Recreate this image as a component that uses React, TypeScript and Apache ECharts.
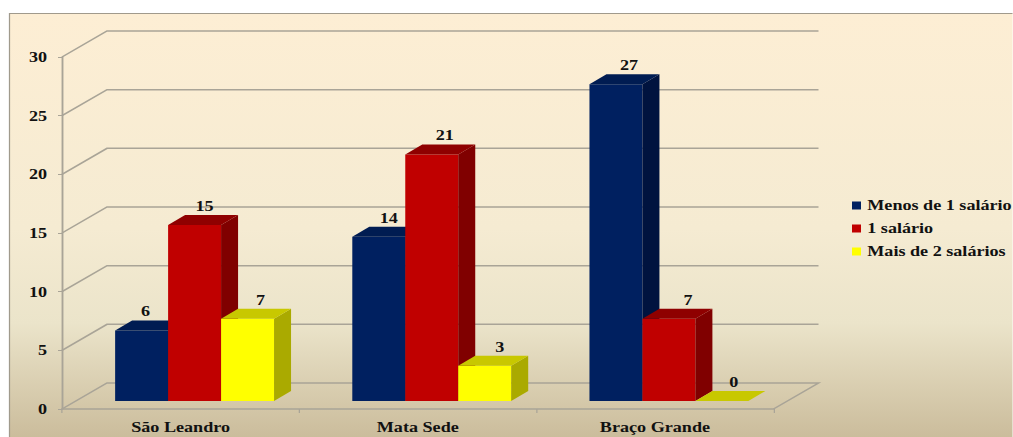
import React, { useEffect, useRef } from "react";
import * as echarts from "echarts";

const categories = ["São Leandro", "Mata Sede", "Braço Grande"];
const menosDe1 = [6, 14, 27];
const um = [15, 21, 7];
const maisDe2 = [7, 3, 0];
const wallTicks = [0, 5, 10, 15, 20, 25, 30];

// The reference's picture is stretched sideways; the chart is drawn narrower and stretched the same way.
const SX = 1.25;
const FONT = "'Liberation Serif'";
const FONT_SIZE = 14.5;
const LINE = "#a9a497";
const WALL_DX = 45 / SX;
const WALL_DY = 26;
const BAR_OFF_X = 14 / SX;
const BAR_OFF_Y = 8;
const DEPTH_X = 17 / SX;
const DEPTH_Y = 10;
const BAR_RATIO = 53 / 237.3;
const labelShifts = [
  [4, 10, 13],
  [10, 13, 19],
  [13, 15, 12],
];

function barSeries(name: string, values: number[], idx: number, front: string, top: string, side: string) {
  return {
    type: "custom",
    name,
    z: 5,
    itemStyle: { color: front },
    data: values.map((v, i) => [i, v]),
    encode: { x: 0, y: 1 },
    renderItem: (_p: any, api: any) => {
      const cat = api.value(0);
      const val = api.value(1);
      const c = api.coord([cat, val]);
      const base = api.coord([cat, 0]);
      const w = api.size([1, 0])[0] * BAR_RATIO;
      const x0 = c[0] + (idx - 1.5) * w + BAR_OFF_X;
      const x1 = x0 + w;
      const yT = c[1] - BAR_OFF_Y;
      const yB = base[1] - BAR_OFF_Y;
      const children: any[] = [];
      if (val > 0) {
        children.push({ type: "rect", shape: { x: x0, y: yT, width: w, height: yB - yT }, style: { fill: front } });
        children.push({
          type: "polygon",
          shape: { points: [[x1, yT], [x1 + DEPTH_X, yT - DEPTH_Y], [x1 + DEPTH_X, yB - DEPTH_Y], [x1, yB]] },
          style: { fill: side },
        });
      }
      children.push({
        type: "polygon",
        shape: { points: [[x0, yT], [x1, yT], [x1 + DEPTH_X, yT - DEPTH_Y], [x0 + DEPTH_X, yT - DEPTH_Y]] },
        style: { fill: top },
      });
      children.push({
        type: "text",
        style: {
          text: String(val),
          x: x0 + w / 2 + labelShifts[idx][cat] / SX,
          y: yT - DEPTH_Y - 9,
          align: "center",
          verticalAlign: "middle",
          font: `bold ${FONT_SIZE}px ${FONT}`,
          fill: "#111",
        },
      });
      return { type: "group", children };
    },
  };
}

export default function App() {
  const ref = useRef<HTMLDivElement>(null);
  useEffect(() => {
    document.body.style.margin = "0";
    const chart = echarts.init(ref.current!, undefined, { renderer: "svg" });
    chart.setOption({
      animation: false,
      backgroundColor: "#ffffff",
      graphic: [
        {
          type: "rect",
          z: -10,
          shape: { x: 9.5 / SX, y: 13.5, width: 1010 / SX, height: 430 },
          style: {
            stroke: "#a09a8c",
            lineWidth: 1,
            fill: {
              type: "linear",
              x: 0,
              y: 0,
              x2: 0,
              y2: 1,
              colorStops: [
                { offset: 0, color: "#fdeed4" },
                { offset: 0.5, color: "#f5ebd2" },
                { offset: 0.72, color: "#ebe4ca" },
                { offset: 1, color: "#c9ba99" },
              ],
            },
          },
        },
      ],
      grid: { left: 62 / SX, right: 239 / SX, top: 57, bottom: 28 },
      legend: {
        orient: "vertical",
        left: 852 / SX,
        top: 198,
        padding: 0,
        itemWidth: 9 / SX,
        itemHeight: 8,
        itemGap: 8,
        icon: "rect",
        textStyle: { fontFamily: FONT, fontWeight: "bold", fontSize: FONT_SIZE, lineHeight: 14, color: "#111" },
        data: ["Menos de 1 salário", "1 salário", "Mais de 2 salários"],
      },
      xAxis: {
        type: "category",
        data: categories,
        axisLine: { lineStyle: { color: LINE, width: 1.5 } },
        axisTick: { show: true, length: 4, alignWithLabel: false, lineStyle: { color: LINE } },
        axisLabel: { fontFamily: FONT, fontWeight: "bold", fontSize: FONT_SIZE, color: "#111", margin: 11 },
      },
      yAxis: {
        type: "value",
        min: 0,
        max: 30,
        interval: 5,
        splitLine: { show: false },
        axisLine: { show: true, lineStyle: { color: LINE, width: 1.5 } },
        axisTick: { show: true, length: 4 / SX, lineStyle: { color: LINE } },
        axisLabel: { fontFamily: FONT, fontWeight: "bold", fontSize: FONT_SIZE, color: "#111", margin: 12 },
      },
      series: [
        {
          type: "custom",
          silent: true,
          z: 1,
          data: wallTicks.map((t) => [0, t]),
          encode: { x: 0, y: 1 },
          renderItem: (p: any, api: any) => {
            const v = api.value(1);
            const c = api.coord([0, v]);
            const left = p.coordSys.x;
            const right = left + p.coordSys.width;
            const pts = [[left, c[1]], [left + WALL_DX, c[1] - WALL_DY], [right + WALL_DX, c[1] - WALL_DY]];
            if (v === 0) pts.push([right, c[1]]);
            return {
              type: "polyline",
              shape: { points: pts },
              style: { stroke: LINE, lineWidth: 1.5, fill: "none" },
            };
          },
        },
        barSeries("Menos de 1 salário", menosDe1, 0, "#002060", "#001c52", "#00133f"),
        barSeries("1 salário", um, 1, "#c00000", "#8f0000", "#800000"),
        barSeries("Mais de 2 salários", maisDe2, 2, "#ffff00", "#c8c800", "#aaaa00"),
      ],
    });
    return () => chart.dispose();
  }, []);
  return (
    <div style={{ position: "fixed", left: 0, top: 0, width: 1013, height: 437, overflow: "hidden" }}>
      <div
        ref={ref}
        style={{ width: 1013 / SX, height: 437, transform: `scaleX(${SX})`, transformOrigin: "0 0" }}
      />
    </div>
  );
}
